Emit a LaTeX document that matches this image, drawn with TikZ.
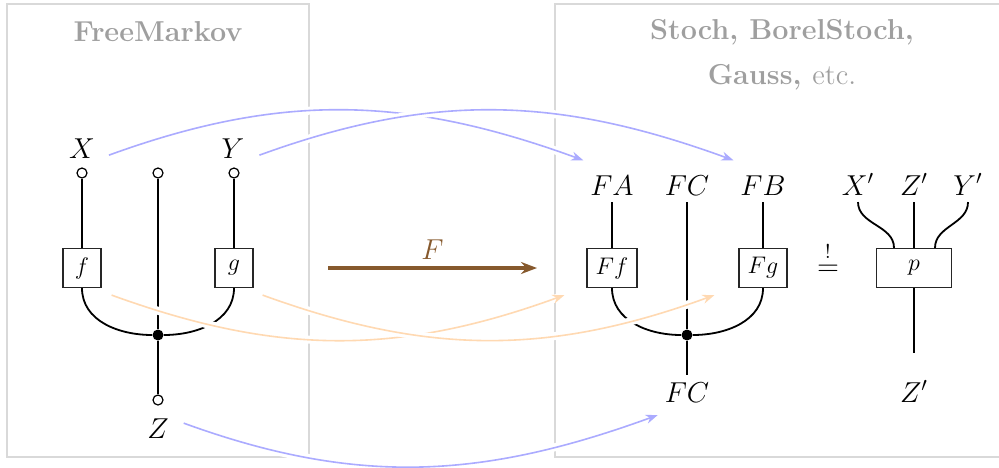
\documentclass[tikz,border=0pt]{standalone}
\usepackage{amsmath,amssymb}
\usepackage{xcolor}
\usepackage{tikz}
\usetikzlibrary{arrows.meta, positioning}

\begin{document}
\begin{tikzpicture}[
  x=0.5pt, y=0.5pt,
  panel/.style={draw=gray!30, line width=1pt},
  title/.style={font=\Large\bfseries, text=gray!75, align=center},
  obj/.style={font=\Large, anchor=base},
  morph/.style={rectangle, draw=black!85, line width=0.6pt, fill=white,
                minimum width=#1, minimum height=19.5pt, font=\large, inner sep=1pt},
  morph/.default=19pt,
  port/.style={circle, draw, fill=white, line width=0.6pt,
               minimum size=5pt, inner sep=0pt},
  copier/.style={circle, fill=black, minimum size=5.5pt, inner sep=0pt},
  wire/.style={line width=0.9pt},
  objmap/.style={blue!33, line width=0.8pt, -{Stealth[length=6pt]},
                 preaction={draw=white, line width=4pt, -}},
  arrmap/.style={orange!30, line width=0.8pt, -{Stealth[length=6pt]},
                 preaction={draw=white, line width=4pt, -}},
  functor/.style={brown!70!black, line width=1.6pt, -{Stealth[length=8pt]}},
]
  \useasboundingbox (0,0) rectangle (999,467);

  % ── panels ──
  \draw[panel] (7,10) rectangle (309,463);
  \draw[panel] (555,10) rectangle (1010,463);
  \node[title] (tFree) at (158,435) {FreeMarkov};
  \node[title] (tStoch) at (782,412) {Stoch, BorelStoch,\\[4.5pt] Gauss, {\mdseries etc.}};

  % ── FreeMarkov diagram ──
  \node[obj] (X) at (82,309) {$X$};
  \node[obj] (Y) at (233,309) {$Y$};
  \node[obj] (Z) at (158,29) {$Z$};
  \node[port] (xin) at (82,294) {};
  \node[port] (cin) at (158,294) {};
  \node[port] (yin) at (234,294) {};
  \node[port] (zout) at (158,67) {};
  \node[morph] (f) at (82,199) {$f$};
  \node[morph] (g) at (234,199) {$g$};
  \node[copier] (dotL) at (158,132) {};

  \draw[wire] (xin) -- (f);
  \draw[wire] (yin) -- (g);
  \draw[wire] (cin) -- (dotL) -- (zout);
  \draw[wire] (f.south) to[out=-90, in=180] (dotL);
  \draw[wire] (g.south) to[out=-90, in=0] (dotL);

  % ── image diagram ──
  \node[obj] (FA) at (612,272) {$FA$};
  \node[obj] (FC) at (687,272) {$FC$};
  \node[obj] (FB) at (763,272) {$FB$};
  \node[obj] (FCb) at (687,65) {$FC$};
  \node[morph=25pt] (Ff) at (612,199) {$Ff$};
  \node[morph=24pt] (Fg) at (763,199) {$Fg$};
  \node[copier] (dotR) at (687,132) {};

  \draw[wire] (FA) -- (Ff);
  \draw[wire] (FB) -- (Fg);
  \draw[wire] (FC) -- (dotR) -- (FCb);
  \draw[wire] (Ff.south) to[out=-90, in=180] (dotR);
  \draw[wire] (Fg.south) to[out=-90, in=0] (dotR);

  % ── marginal p ──
  \node[obj] (eq) at (828,192) {$\overset{!}{=}$};
  \node[obj] (Xp) at (858,272) {$X'$};
  \node[obj] (Zp) at (914,272) {$Z'$};
  \node[obj] (Yp) at (968,272) {$Y'$};
  \node[obj] (Zpb) at (914,65) {$Z'$};
  \node[morph=37.5pt] (p) at (914,199) {$p$};
  \coordinate (pend) at (914,114);

  \draw[wire] (Xp.south) to[out=-90, in=90] ([xshift=-10pt]p.north);
  \draw[wire] (Zp) -- (p);
  \draw[wire] (Yp.south) to[out=-90, in=90] ([xshift=10.5pt]p.north);
  \draw[wire] (p) -- (pend);

  % ── functor ──
  \coordinate (Fsrc) at (328,199);
  \coordinate (Ftgt) at (537,199);
  \draw[functor] (Fsrc) -- node[above, font=\Large, text=brown!70!black] (Flbl) {$F$} (Ftgt);

  % ── object and arrow maps ──
  \draw[objmap] ([shift={(3.5pt,-3.5pt)}]X.east) to[out=20, in=160] ([yshift=4pt]FA.north west);
  \draw[objmap] ([shift={(4pt,-3.5pt)}]Y.east) to[out=20, in=160] ([yshift=4pt]FB.north west);
  \draw[objmap] ([shift={(4pt,2.5pt)}]Z.east) to[out=-20, in=200] ([yshift=-3pt]FCb.south west);
  \draw[arrmap] ([shift={(5pt,-3.5pt)}]f.south east) to[out=-20, in=200] ([shift={(-11pt,-3.5pt)}]Ff.south west);
  \draw[arrmap] ([shift={(4.5pt,-3.5pt)}]g.south east) to[out=-20, in=200] ([shift={(-12pt,-3.5pt)}]Fg.south west);
\end{tikzpicture}
\end{document}
